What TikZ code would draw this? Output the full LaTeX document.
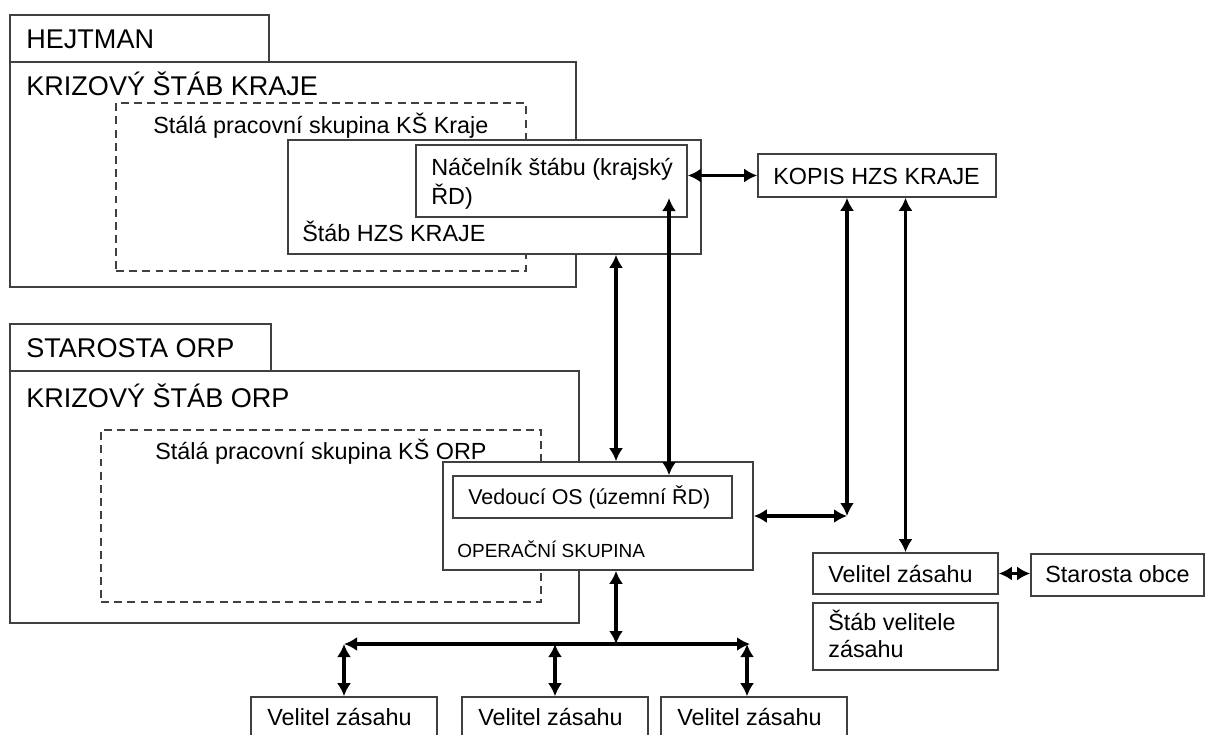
\documentclass[tikz,border=0pt]{standalone}
\usepackage{fontspec}
\setmainfont{Liberation Sans}
\usetikzlibrary{arrows.meta}
\usetikzlibrary{fit}
\tikzstyle{box}=[draw=black!75,line width=0.9pt,fill=white,inner sep=0pt]
\tikzstyle{dbox}=[box,fill=none,dash pattern=on 4.5pt off 3pt]
\tikzstyle{link}=[line width=2pt,>={Latex[length=2.6mm,width=2.8mm]},<->]
\tikzstyle{big}=[anchor=base west,inner sep=0pt,font=\fontsize{15.4}{18}\selectfont]
\tikzstyle{txt}=[anchor=base west,inner sep=0pt,font=\fontsize{13.3}{16}\selectfont]

\begin{document}
\begin{tikzpicture}[x=0.02cm,y=-0.02cm]
\useasboundingbox (0,0) rectangle (1206,734);
\begin{scope} %kraj
	\node[box,fit={(10,15)(269,62)}] (hejtman) {};
	\node[box,fit={(10,62)(576,287)}] (ksk) {};
	\node[dbox,fit={(116,103)(526,271)}] (spsk) {};
	\node[big] (thejtman) at (26,48) {HEJTMAN};
	\node[big] (tksk) at (26,95) {KRIZOVÝ ŠTÁB KRAJE};
	\node[txt] (tspsk) at (153,133) {Stálá pracovní skupina KŠ Kraje};
	%stab HZS
	\node[box,fit={(288,140)(701,254)}] (hzs) {};
	\node[box,fit={(416,145)(687,217)}] (nac) {};
	\node[txt] (tnac) at (431,175) {Náčelník štábu (krajský};
	\node[txt] (tnacb) at (431,204) {ŘD)};
	\node[txt] (thzs) at (302,241) {Štáb HZS KRAJE};
	%KOPIS
	\node[box,fit={(758,154)(996,197)}] (kopis) {};
	\node[txt] (tkopis) at (773,184) {KOPIS HZS KRAJE};
\end{scope}
\begin{scope} %ORP
	\node[box,fit={(10,324)(271,371)}] (starosta) {};
	\node[box,fit={(10,371)(579,623)}] (ksorp) {};
	\node[dbox,fit={(101,430)(541,602)}] (sporp) {};
	\node[big] (tstarosta) at (26,357) {STAROSTA ORP};
	\node[big] (tksorp) at (26,407) {KRIZOVÝ ŠTÁB ORP};
	\node[txt] (tsporp) at (155,459) {Stálá pracovní skupina KŠ ORP};
	%operacni skupina
	\node[box,fit={(443,462)(753,570)}] (os) {};
	\node[box,fit={(453,476)(732,518)}] (ved) {};
	\node[txt,font=\fontsize{12.2}{15}\selectfont] (tved) at (468,504) {Vedoucí OS (územní ŘD)};
	\node[txt,font=\fontsize{10.8}{13}\selectfont] (tos) at (457,557) {OPERAČNÍ SKUPINA};
\end{scope}
\begin{scope} %velitel zasahu vpravo
	\node[box,fit={(813,553)(998,594)}] (vzr) {};
	\node[box,fit={(813,603)(998,670)}] (stabvz) {};
	\node[box,fit={(1031,554)(1204,596)}] (obec) {};
	\node[txt] (tvzr) at (828,582) {Velitel zásahu};
	\node[txt] (tstabvz) at (828,630) {Štáb velitele};
	\node[txt] (tstabvzb) at (828,657) {zásahu};
	\node[txt] (tobec) at (1045,582) {Starosta obce};
\end{scope}
\begin{scope} %velitele zasahu dole
	\node[box,fit={(251,697)(437,760)}] (vza) {};
	\node[box,fit={(462,697)(648,760)}] (vzb) {};
	\node[box,fit={(661,697)(847,760)}] (vzc) {};
	\node[txt] (tvza) at (267,725) {Velitel zásahu};
	\node[txt] (tvzb) at (478,725) {Velitel zásahu};
	\node[txt] (tvzc) at (677,725) {Velitel zásahu};
\end{scope}
%spojeni
\coordinate (nacin) at (669,198);
\coordinate (elb) at (847,516);
\coordinate (bus) at (616,644);
\coordinate (busr) at (750,644);
\coordinate (colc) at (747,644);
\draw[link] (kopis.west -| nac.east) -- (kopis.west);
\draw[link] (hzs.south -| bus) -- (os.north -| bus);
\draw[link] (nacin) -- (ved.north -| nacin);
\draw[link] (kopis.south -| elb) -- (elb);
\draw[link] (os.east) -- (elb);
\draw[link] (kopis.south -| vzr.north) -- (vzr.north);
\draw[link] (vzr.east) -- (vzr.east -| obec.west);
\draw[link] (os.south -| bus) -- (bus);
\draw[link] (vza.north |- bus) -- (busr);
\draw[link] (vza.north |- bus) -- (vza.north);
\draw[link] (vzb.north |- bus) -- (vzb.north);
\draw[link] (colc) -- (vzc.north -| colc);
\end{tikzpicture}
\end{document}
